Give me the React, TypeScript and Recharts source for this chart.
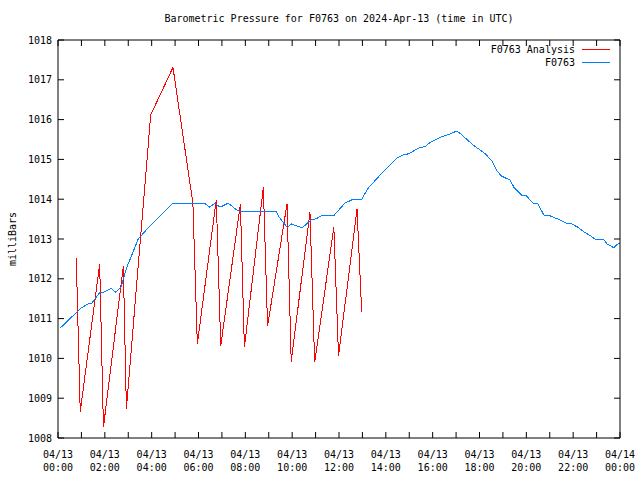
import { CartesianGrid, Line, LineChart, XAxis, YAxis } from 'recharts';

const analysisHours = [0.78, 0.95, 1.78, 1.94, 2.79, 2.92, 3.96, 4.91, 5.76, 5.95, 6.76, 6.95, 7.79, 7.96, 8.77, 8.95, 9.78, 9.96, 10.76, 10.96, 11.78, 11.98, 12.77, 12.97];
const analysisValues = [1012.53, 1008.66, 1012.37, 1008.27, 1012.32, 1008.74, 1016.12, 1017.31, 1013.9, 1010.36, 1013.99, 1010.32, 1013.88, 1010.28, 1014.3, 1010.81, 1013.88, 1009.92, 1013.67, 1009.9, 1013.29, 1010.06, 1013.75, 1011.17];

const obsHours = [0.09, 0.85, 1.0, 1.28, 1.42, 1.78, 1.99, 2.28, 2.45, 2.7, 2.92, 3.42, 3.77, 4.91, 6.26, 6.48, 6.7, 6.92, 7.27, 7.63, 7.77, 9.31, 9.48, 9.79, 9.98, 10.26, 10.45, 10.83, 11.04, 11.26, 11.78, 12.25, 12.61, 12.97, 13.25, 13.82, 14.46, 14.74, 14.96, 15.46, 15.67, 15.88, 16.31, 16.74, 17.02, 17.16, 17.73, 18.23, 18.52, 18.73, 18.94, 19.3, 19.47, 19.8, 19.97, 20.3, 20.48, 20.75, 20.98, 21.43, 21.72, 21.93, 22.22, 22.46, 22.72, 22.93, 23.29, 23.46, 23.74, 23.93, 24.0];
const obsValues = [1010.76, 1011.19, 1011.27, 1011.37, 1011.37, 1011.65, 1011.67, 1011.76, 1011.66, 1011.8, 1012.26, 1012.99, 1013.23, 1013.9, 1013.9, 1013.8, 1013.9, 1013.8, 1013.9, 1013.73, 1013.69, 1013.69, 1013.52, 1013.29, 1013.38, 1013.31, 1013.29, 1013.49, 1013.51, 1013.59, 1013.59, 1013.9, 1014.0, 1014.0, 1014.28, 1014.65, 1015.03, 1015.11, 1015.14, 1015.3, 1015.32, 1015.42, 1015.55, 1015.64, 1015.71, 1015.66, 1015.36, 1015.15, 1014.97, 1014.72, 1014.58, 1014.48, 1014.3, 1014.1, 1014.1, 1013.9, 1013.9, 1013.6, 1013.59, 1013.48, 1013.39, 1013.38, 1013.29, 1013.18, 1013.09, 1013.0, 1013.0, 1012.87, 1012.78, 1012.89, 1012.9];

const hourTicks = Array.from({ length: 25 }, (_, i) => i);
const pressureTicks = [1008, 1009, 1010, 1011, 1012, 1013, 1014, 1015, 1016, 1017, 1018];

const analysisData = analysisHours.map((h, i) => ({ h, p: analysisValues[i] }));
const obsData = obsHours.map((h, i) => ({ h, p: obsValues[i] }));

const FONT = '"DejaVu Sans Mono", monospace';
const RED = '#ff0000';
const BLUE = '#0080ff';

function HourTick(props: any) {
  const { x, y, payload } = props;
  const h = payload.value as number;
  if (h % 2 !== 0) return <g />;
  const day = h === 24 ? '04/14' : '04/13';
  const time = `${String(h % 24).padStart(2, '0')}:00`;
  return (
    <text x={x} y={y} textAnchor="middle" fontFamily={FONT} fontSize={10} fill="#000">
      <tspan x={x} dy={20}>{day}</tspan>
      <tspan x={x} dy={13}>{time}</tspan>
    </text>
  );
}

export default function App() {
  return (
    <div style={{ position: 'absolute', left: 0, top: 0, width: 640, height: 480, background: '#fff' }}>
      <div
        style={{
          position: 'absolute', left: 58, top: 13, width: 562, textAlign: 'center',
          fontFamily: FONT, fontSize: 10, color: '#000',
        }}
      >
        Barometric Pressure for F0763 on 2024-Apr-13 (time in UTC)
      </div>
      <div style={{ position: 'absolute', right: 30, top: 43, fontFamily: FONT, fontSize: 10, lineHeight: '13px', textAlign: 'right' }}>
        <div style={{ display: 'flex', alignItems: 'center', justifyContent: 'flex-end' }}>
          <span>F0763 Analysis</span>
          <span style={{ display: 'inline-block', width: 28, borderTop: `1px solid ${RED}`, marginLeft: 7 }} />
        </div>
        <div style={{ display: 'flex', alignItems: 'center', justifyContent: 'flex-end' }}>
          <span>F0763</span>
          <span style={{ display: 'inline-block', width: 28, borderTop: `1px solid ${BLUE}`, marginLeft: 7 }} />
        </div>
      </div>
      <LineChart width={640} height={480} margin={{ top: 39, right: 19, bottom: 12, left: 8 }}>
        <CartesianGrid stroke="none" />
        <XAxis
          xAxisId="bottom"
          type="number"
          dataKey="h"
          domain={[0, 24]}
          ticks={hourTicks}
          interval={0}
          allowDataOverflow
          height={30}
          stroke="#000"
          tickSize={-6}
          tickMargin={6}
          tick={<HourTick />}
        />
        <XAxis
          xAxisId="top"
          orientation="top"
          type="number"
          dataKey="h"
          domain={[0, 24]}
          ticks={hourTicks}
          interval={0}
          allowDataOverflow
          height={1}
          stroke="#000"
          tickSize={-6}
          tickFormatter={() => ''}
        />
        <YAxis
          yAxisId="left"
          type="number"
          domain={[1008, 1018]}
          ticks={pressureTicks}
          interval={0}
          allowDataOverflow
          width={50}
          stroke="#000"
          tickSize={-6}
          tickMargin={12}
          tick={{ fontFamily: FONT, fontSize: 10, fill: '#000' }}
          label={{ value: 'milliBars', angle: -90, position: 'insideLeft', offset: 4, style: { fontFamily: FONT, fontSize: 10, fill: '#000', textAnchor: 'middle' } }}
        />
        <YAxis
          yAxisId="right"
          orientation="right"
          type="number"
          domain={[1008, 1018]}
          ticks={pressureTicks}
          interval={0}
          allowDataOverflow
          width={1}
          stroke="#000"
          tickSize={-6}
          tickFormatter={() => ''}
        />
        <Line
          xAxisId="bottom"
          yAxisId="left"
          data={analysisData}
          dataKey="p"
          type="linear"
          stroke={RED}
          strokeWidth={1}
          shapeRendering="crispEdges"
          dot={false}
          isAnimationActive={false}
        />
        <Line
          xAxisId="bottom"
          yAxisId="left"
          data={obsData}
          dataKey="p"
          type="linear"
          stroke={BLUE}
          strokeWidth={1}
          shapeRendering="crispEdges"
          dot={false}
          isAnimationActive={false}
        />
        <Line
          xAxisId="top"
          yAxisId="right"
          data={[]}
          dataKey="p"
          stroke="none"
          dot={false}
          legendType="none"
          isAnimationActive={false}
        />
      </LineChart>
    </div>
  );
}
